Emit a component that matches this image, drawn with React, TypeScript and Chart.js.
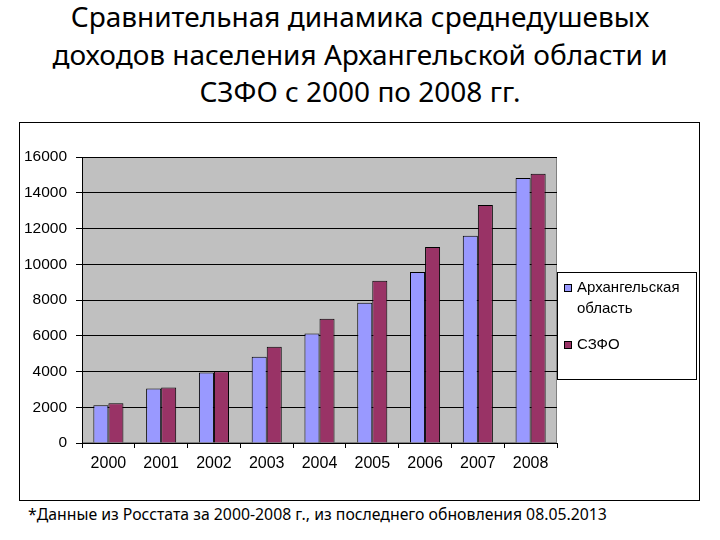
import React, { useEffect, useRef } from "react";
import { Chart, registerables } from "chart.js";

Chart.register(...registerables);

const categories = ["2000", "2001", "2002", "2003", "2004", "2005", "2006", "2007", "2008"];
const arkhValues = [2110, 3050, 3945, 4820, 6130, 7840, 9570, 11590, 14830];
const szfoValues = [2220, 3100, 4020, 5380, 6950, 9070, 10970, 13320, 15060];
const seriesLabels = [["Архангельская", "область"], ["СЗФО"]];
const yTicks = [0, 2000, 4000, 6000, 8000, 10000, 12000, 14000, 16000];

const titleLines = [
  "Сравнительная динамика среднедушевых",
  "доходов населения Архангельской области и",
  "СЗФО с 2000 по 2008 гг.",
];
const footnote = "*Данные из Росстата за 2000-2008 г., из последнего обновления 08.05.2013";

const axisFont = "'Liberation Sans', Arial, sans-serif";

const plotBg = {
  id: "plotBg",
  beforeDraw(chart: any) {
    const { ctx, chartArea } = chart;
    ctx.save();
    ctx.fillStyle = "#C0C0C0";
    ctx.fillRect(chartArea.left, chartArea.top, chartArea.right - chartArea.left, chartArea.bottom - chartArea.top);
    ctx.strokeStyle = "#808080";
    ctx.lineWidth = 1;
    ctx.strokeRect(chartArea.left + 0.5, chartArea.top + 0.5, chartArea.right - chartArea.left - 1, chartArea.bottom - chartArea.top - 1);
    ctx.restore();
  },
};

const boxLegend = {
  id: "boxLegend",
  afterDraw(chart: any) {
    const { ctx, chartArea } = chart;
    const left = chartArea.right;
    const top = 149;
    const width = 140;
    const height = 108;
    ctx.save();
    ctx.fillStyle = "#fff";
    ctx.fillRect(left, top, width, height);
    ctx.strokeStyle = "#000";
    ctx.lineWidth = 1;
    ctx.strokeRect(left + 0.5, top + 0.5, width - 1, height - 1);
    ctx.font = "15px " + axisFont;
    ctx.textBaseline = "middle";
    const rows = [165, 222];
    chart.data.datasets.forEach((ds: any, i: number) => {
      const y = rows[i];
      ctx.fillStyle = ds.backgroundColor;
      ctx.fillRect(left + 7, y - 4, 8, 8);
      ctx.strokeStyle = "#000";
      ctx.strokeRect(left + 7.5, y - 3.5, 7, 7);
      ctx.fillStyle = "#000";
      const lines = Array.isArray(ds.label) ? ds.label : [ds.label];
      lines.forEach((ln: string, j: number) => {
        ctx.fillText(ln, left + 20, y + j * 21);
      });
    });
    ctx.restore();
  },
};

export default function App() {
  const ref = useRef<HTMLCanvasElement | null>(null);
  useEffect(() => {
    document.body.style.margin = "0";
    if (!ref.current) return;
    const chart = new Chart(ref.current, {
      type: "bar",
      data: {
        labels: categories,
        datasets: [
          {
            label: seriesLabels[0] as any,
            data: arkhValues,
            backgroundColor: "#9999FF",
            borderColor: "#000",
            borderWidth: 1,
          },
          {
            label: seriesLabels[1] as any,
            data: szfoValues,
            backgroundColor: "#993366",
            borderColor: "#000",
            borderWidth: 1,
          },
        ],
      },
      options: {
        responsive: false,
        animation: false,
        layout: { padding: { top: 34, right: 142, left: 0, bottom: 0 } },
        plugins: { legend: { display: false }, tooltip: { enabled: false }, title: { display: false } },
        datasets: { bar: { categoryPercentage: 0.57, barPercentage: 1.0 } },
        scales: {
          x: {
            offset: true,
            grid: { offset: true, drawOnChartArea: false, drawTicks: true, tickLength: 5, color: "#000" },
            border: { color: "#000", width: 1 },
            ticks: { color: "#000", font: { family: axisFont, size: 16 }, padding: 6, maxRotation: 0 },
            afterFit: (s: any) => { s.height = 57; },
          },
          y: {
            min: 0,
            max: 16000,
            afterBuildTicks: (s: any) => { s.ticks = yTicks.map((v) => ({ value: v })); },
            grid: { color: "#000", tickLength: 6, drawTicks: true },
            border: { color: "#000", width: 1 },
            ticks: { color: "#000", font: { family: axisFont, size: 15.5 }, padding: 9, callback: (v: any) => String(v) },
            afterFit: (s: any) => { s.width = 62; },
          },
        },
      },
      plugins: [plotBg, boxLegend],
    });
    return () => chart.destroy();
  }, []);

  return (
    <div style={{ position: "relative", width: 720, height: 540, background: "#fff", overflow: "hidden" }}>
      <div style={{ position: "absolute", left: 0, top: -2, width: 720, textAlign: "center", fontFamily: "'Noto Sans', sans-serif", fontSize: 28, lineHeight: "37.5px", color: "#000" }}>
        {titleLines.map((t, i) => (<div key={i}>{t}</div>))}
      </div>
      <div style={{ position: "absolute", left: 19, top: 122, width: 679, height: 377, border: "1px solid #000" }}>
        <canvas ref={ref} width={679} height={377} style={{ display: "block", width: 679, height: 377 }} />
      </div>
      <div style={{ position: "absolute", left: 28, top: 503, fontFamily: "'Noto Sans', sans-serif", fontSize: 15.8, color: "#000", whiteSpace: "nowrap" }}>
        {footnote}
      </div>
    </div>
  );
}
